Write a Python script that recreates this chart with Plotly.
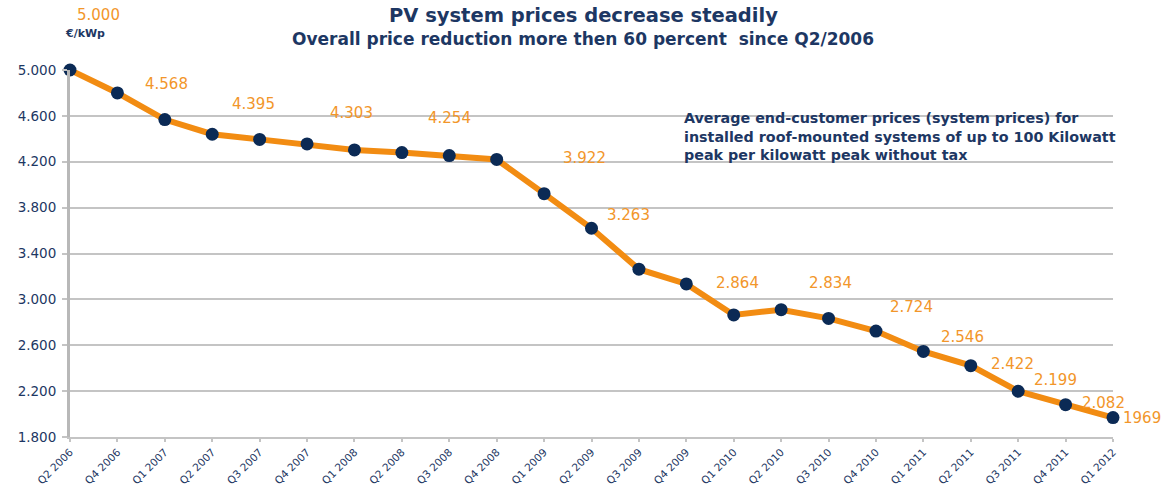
import plotly.graph_objects as go

quarters = ["Q2 2006", "Q4 2006", "Q1 2007", "Q2 2007", "Q3 2007", "Q4 2007",
            "Q1 2008", "Q2 2008", "Q3 2008", "Q4 2008", "Q1 2009", "Q2 2009",
            "Q3 2009", "Q4 2009", "Q1 2010", "Q2 2010", "Q3 2010", "Q4 2010",
            "Q1 2011", "Q2 2011", "Q3 2011", "Q4 2011", "Q1 2012"]
prices = [5000, 4800, 4568, 4440, 4395, 4355, 4303, 4280, 4254, 4220, 3922, 3620,
          3263, 3135, 2864, 2910, 2834, 2724, 2546, 2422, 2199, 2082, 1969]
# labelled points: index -> label text
label_idx = [0, 2, 4, 6, 8, 10, 12, 14, 16, 17, 18, 19, 20, 21, 22]
label_txt = ["5.000", "4.568", "4.395", "4.303", "4.254", "3.922", "3.263", "2.864",
             "2.834", "2.724", "2.546", "2.422", "2.199", "2.082", "1969"]
y_ticks = [1800, 2200, 2600, 3000, 3400, 3800, 4200, 4600, 5000]
y_tick_text = ["1.800", "2.200", "2.600", "3.000", "3.400", "3.800", "4.200", "4.600", "5.000"]

# label pixel offsets (style)
label_shift = [(28, 55), (2, 36), (-6, 35), (-3, 37), (0, 38), (40, 36), (-10, 54),
               (4, 32), (2, 35), (36, 24), (39, 14), (42, 2), (37, 11), (38, 2), (29, 0)]

NAVY = "#1d3763"
ORANGE = "#f28c12"
LABEL_ORANGE = "#f2962a"
GRID = "#c4c4c4"
FONT = "DejaVu Sans"

xs = list(range(len(quarters)))

fig = go.Figure()
fig.add_trace(go.Scatter(
    x=xs, y=prices, mode="lines+markers",
    line=dict(color=ORANGE, width=6),
    marker=dict(color="#0b2a55", size=13, line=dict(width=0)),
    cliponaxis=False, hoverinfo="skip", showlegend=False))

annotations = []
for k, i in enumerate(label_idx):
    dx, dy = label_shift[k]
    annotations.append(dict(
        x=xs[i], y=prices[i], xref="x", yref="y", text=label_txt[k],
        showarrow=False, xshift=dx, yshift=dy, yanchor="middle", borderpad=0,
        font=dict(family=FONT, size=15, color=LABEL_ORANGE)))

annotations += [
    dict(x=0.492, y=1.1472, xref="paper", yref="paper", showarrow=False,
         yanchor="middle", borderpad=0,
         text="<b>PV system prices decrease steadily</b>",
         font=dict(family=FONT, size=19.5, color=NAVY)),
    dict(x=0.492, y=1.0845, xref="paper", yref="paper", showarrow=False,
         yanchor="middle", borderpad=0,
         text="<b>Overall price reduction more then 60 percent  since Q2/2006</b>",
         font=dict(family=FONT, size=17, color=NAVY)),
    dict(x=-0.0058, y=1.1008, xref="paper", yref="paper", showarrow=False,
         yanchor="middle", borderpad=0,
         text="<b>€/kWp</b>", font=dict(family=FONT, size=11, color=NAVY)),
    dict(x=0.5868, y=0.820, xref="paper", yref="paper", showarrow=False,
         xanchor="left", yanchor="middle", align="left",
         text="<b>Average end-customer prices (system prices) for<br>"
              "installed roof-mounted systems of up to 100 Kilowatt<br>"
              "peak per kilowatt peak without tax</b>",
         font=dict(family=FONT, size=14.3, color=NAVY)),
]

fig.update_layout(
    width=1174, height=486,
    margin=dict(l=70, r=61, t=70, b=49, autoexpand=False),
    paper_bgcolor="white", plot_bgcolor="white",
    annotations=annotations,
    xaxis=dict(range=[0, 22], tickmode="array", tickvals=xs, ticktext=quarters,
               tickangle=-45, showgrid=False, zeroline=False, automargin=False,
               showline=True, linecolor=GRID, linewidth=2,
               ticks="outside", ticklen=3, tickcolor=GRID, tickwidth=1.5,
               tickfont=dict(family=FONT, size=10.5, color=NAVY)),
    yaxis=dict(range=[1800, 5000], tickmode="array", tickvals=y_ticks,
               ticktext=y_tick_text, showgrid=True, gridcolor=GRID, gridwidth=1.5,
               zeroline=False, showline=True, linecolor="#b8b8b8", linewidth=3,
               automargin=False, ticklabelstandoff=3,
               ticks="outside", ticklen=5, tickcolor=GRID, tickwidth=1.5,
               tickfont=dict(family=FONT, size=13.5, color=NAVY)),
)

# remove the browser's default 8px body margin so the figure fills the window
fig.write_html("out.html", config={"displayModeBar": False},
               post_script="document.body.style.margin='0';")
